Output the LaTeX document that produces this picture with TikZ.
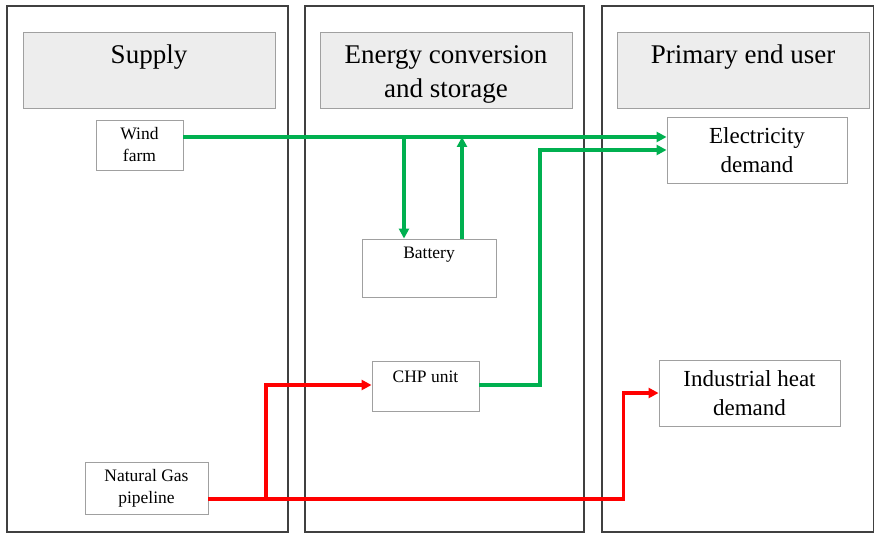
\documentclass[tikz,border=0pt]{standalone}
\usepackage{fontspec}
\setmainfont{Liberation Serif}
\usetikzlibrary{arrows.meta}
\definecolor{gline}{HTML}{00B050}
\definecolor{rline}{HTML}{FF0000}
\definecolor{hfill}{HTML}{EDEDED}
\definecolor{bbord}{HTML}{A0A0A0}
\definecolor{pbord}{HTML}{404040}
\begin{document}
\begin{tikzpicture}[x=1pt,y=-1pt,
  panel/.style={draw=pbord,line width=1.1pt,inner sep=0pt},
  hdr/.style={draw=bbord,fill=hfill,line width=0.9pt,inner sep=0pt,minimum width=252pt,minimum height=76pt},
  htext/.style={font=\fontsize{27}{34}\selectfont,align=center,inner sep=0pt},
  box/.style={draw=bbord,line width=0.9pt,inner sep=0pt,align=center},
  small/.style={font=\fontsize{17.5}{22}\selectfont},
  large/.style={font=\fontsize{23}{29}\selectfont},
  gflow/.style={draw=gline,line width=3.2pt,-{Triangle[length=10pt,width=10pt]}},
  rflow/.style={draw=rline,line width=3.2pt,-{Triangle[length=10pt,width=10pt]}}]
\useasboundingbox (0,0) rectangle (874,534);
% panels
\draw[panel] (7,6) rectangle (288,532);
\draw[panel] (305,6) rectangle (584,532);
\draw[panel] (602,6) rectangle (873.4,532);
% headers
\node[hdr] (h1) at (149,70) {};
\node[hdr] (h2) at (446,70) {};
\node[hdr] (h3) at (743,70) {};
\node[htext] (t1) at (149,57) {Supply};
\node[htext] (t2) at (446,74) {Energy conversion\\and storage};
\node[htext] (t3) at (743,57) {Primary end user};
% boxes
\node[box,small,minimum width=87pt,minimum height=50pt] (wind) at (139.5,145) {Wind\\farm};
\node[box,minimum width=134pt,minimum height=58pt] (bat) at (429,268) {};
\node[small,inner sep=0pt] (batt) at (429,255) {Battery};
\node[box,minimum width=107pt,minimum height=50pt] (chp) at (425.5,386) {};
\node[small,inner sep=0pt] (chpt) at (425.5,377) {CHP unit};
\node[box,small,minimum width=123pt,minimum height=52pt] (ng) at (146.5,488) {Natural Gas\\pipeline};
\node[box,large,minimum width=180pt,minimum height=66pt] (elec) at (757,150) {Electricity\\demand};
\node[box,large,minimum width=181pt,minimum height=66pt] (heat) at (749.5,393) {Industrial heat\\demand};
% helper coordinates
\coordinate (ytop) at (0,137);
\coordinate (ymid) at (0,150);
\coordinate (ylow) at (0,499);
\coordinate (bdown) at (404,137);
\coordinate (bup) at (462,137);
\coordinate (chpturn) at (540,385);
\coordinate (gasturn) at (266,499);
% green flows
\draw[gflow] (wind.east |- ytop) -- (elec.west |- ytop);
\draw[gflow] (bdown) -- (bdown |- bat.north);
\draw[gflow] (bup |- bat.north) -- (bup);
\draw[gflow] (chp.east |- chpturn) -- (chpturn) -- (chpturn |- ymid) -- (elec.west |- ymid);
% red flows
\draw[rflow] (ng.east |- ylow) -| ([xshift=-35pt]heat.west) -- (heat.west);
\draw[rflow] (gasturn) |- (chp.west |- chpturn);
\end{tikzpicture}
\end{document}
